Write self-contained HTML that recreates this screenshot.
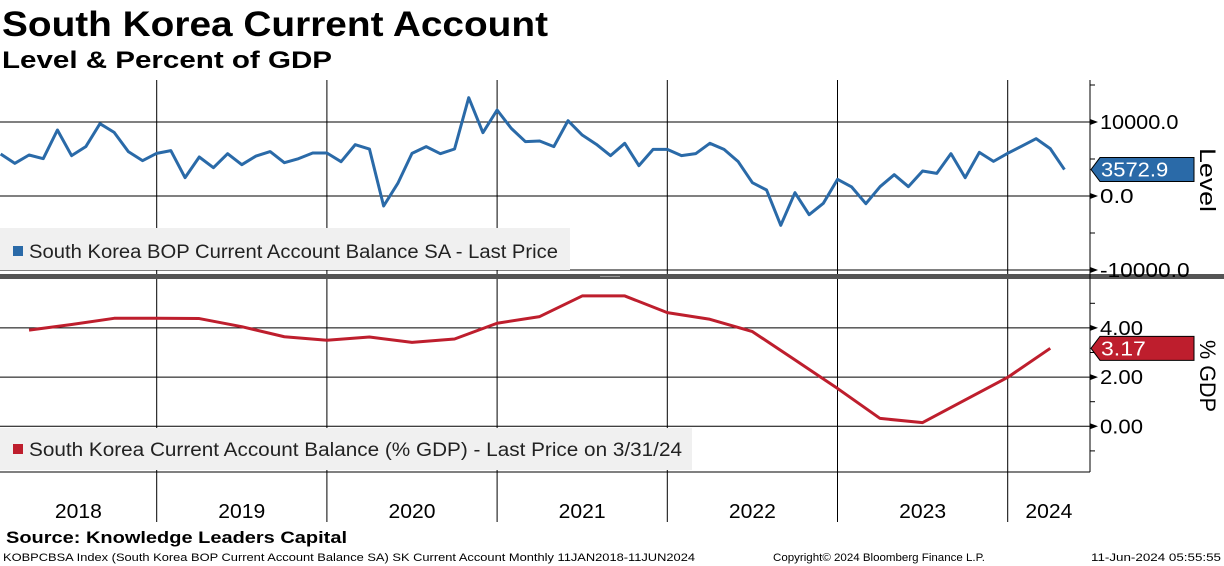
<!DOCTYPE html>
<html><head><meta charset="utf-8"><style>
body{margin:0;background:#fff;width:1224px;height:566px;overflow:hidden;font-family:"Liberation Sans",sans-serif}
svg{display:block}
</style></head><body>
<svg id="chart" width="1224" height="566" xmlns="http://www.w3.org/2000/svg" font-family="Liberation Sans, sans-serif">
<text x="2" y="36" font-size="35" font-weight="bold" textLength="546" lengthAdjust="spacingAndGlyphs">South Korea Current Account</text>
<text x="2" y="68" font-size="24" font-weight="bold" textLength="330" lengthAdjust="spacingAndGlyphs">Level &amp; Percent of GDP</text>
<g id="grid"></g>
<rect x="0" y="274" width="1224" height="5" fill="#555"/>
<line x1="600" y1="276.5" x2="620" y2="276.5" stroke="#999" stroke-width="1"/>
<rect x="0" y="228" width="570" height="42" fill="#f0f0f0"/>
<rect x="13" y="246" width="10" height="10" fill="#2a6aa8"/>
<text x="29" y="258" font-size="19" fill="#222" textLength="529" lengthAdjust="spacingAndGlyphs">South Korea BOP Current Account Balance SA - Last Price</text>
<rect x="0" y="428" width="692" height="42" fill="#f0f0f0"/>
<rect x="13" y="444" width="10" height="10" fill="#be1e2d"/>
<text x="29" y="456" font-size="19" fill="#222" textLength="653" lengthAdjust="spacingAndGlyphs">South Korea Current Account Balance (% GDP) - Last Price on 3/31/24</text>
<g id="series"></g>
<g id="axes"></g>
<text transform="translate(1200,148) rotate(90)" font-size="22" textLength="64" lengthAdjust="spacingAndGlyphs">Level</text>
<text transform="translate(1200,340) rotate(90)" font-size="22" textLength="72" lengthAdjust="spacingAndGlyphs">% GDP</text>
<text x="6" y="543" font-size="17" font-weight="bold" textLength="341" lengthAdjust="spacingAndGlyphs">Source: Knowledge Leaders Capital</text>
<text x="3" y="561" font-size="11" textLength="692" lengthAdjust="spacingAndGlyphs">KOBPCBSA Index (South Korea BOP Current Account Balance SA) SK Current Account  Monthly 11JAN2018-11JUN2024</text>
<text x="773" y="561" font-size="11" textLength="212" lengthAdjust="spacingAndGlyphs">Copyright© 2024 Bloomberg Finance L.P.</text>
<text x="1091" y="561" font-size="11" textLength="130" lengthAdjust="spacingAndGlyphs">11-Jun-2024 05:55:55</text>
</svg>
<script>
const years=["2018","2019","2020","2021","2022","2023","2024"];
const levelValues=[5676,4414,5540,5045,8918,5450,6667,9775,8600,6000,4775,5765,6130,2480,5270,3830,5720,4230,5400,6000,4500,5045,5810,5810,4640,6940,6350,-1350,1710,5765,6670,5720,6350,13290,8560,11620,9140,7340,7430,6670,10180,8240,6980,5450,7120,4100,6300,6300,5450,5720,7120,6300,4640,1800,810,-3960,450,-2520,-990,2250,1220,-1040,1260,2880,1260,3380,3060,5720,2480,5900,4680,5765,6750,7750,6400,3572.9];
const gdpValues=[3.91,4.14,4.39,4.39,4.38,4.05,3.64,3.50,3.63,3.41,3.55,4.19,4.46,5.30,5.30,4.62,4.35,3.85,2.70,1.54,0.32,0.15,1.07,1.99,3.17];
const levelTicks=[10000,0,-10000];
const levelTickLabels=["10000.0","0.0","-10000.0"];
const gdpTicks=[4,2,0];
const gdpTickLabels=["4.00","2.00","0.00"];
const lastLevelLabel="3572.9";
const lastGdpLabel="3.17";

const NS="http://www.w3.org/2000/svg";
const x0=-13.5, yearW=170.2, plotR=1090;
const xMonth=i=>x0+(i+1)*yearW/12;
const xQuarter=q=>x0+(q+1)*yearW/4;
const yLevel=v=>196-v*0.0074;
const yGdp=v=>426.3-v*24.6;
function mk(tag,attrs,parent){const e=document.createElementNS(NS,tag);for(const k in attrs)e.setAttribute(k,attrs[k]);parent.appendChild(e);return e;}
const grid=document.getElementById('grid'),series=document.getElementById('series'),axes=document.getElementById('axes');

for(let y=1;y<years.length;y++){
  const x=x0+y*yearW;
  const l=mk('line',{x1:x,y1:80,x2:x,y2:522,stroke:'#000','stroke-width':1},grid);
  
  
}
years.forEach((yr,i)=>{
  const a=Math.max(0,x0+i*yearW), b=Math.min(plotR,x0+(i+1)*yearW);
  const t=mk('text',{x:(a+b)/2,y:518,'font-size':20,'text-anchor':'middle',textLength:47,lengthAdjust:'spacingAndGlyphs'},axes);
  t.textContent=yr;
  
  
});
levelTicks.forEach((v,i)=>{
  const y=yLevel(v);
  const l=mk('line',{x1:0,y1:y,x2:plotR,y2:y,stroke:'#000','stroke-width':1},grid);
  
  
  mk('path',{d:`M${plotR},${y-3}L${plotR+8},${y}L${plotR},${y+3}Z`,fill:'#000'},axes);
  const lab=levelTickLabels[i];
  const t=mk('text',{x:1100,y:y+7,'font-size':20,textLength:lab.length*11.2,lengthAdjust:'spacingAndGlyphs'},axes);
  t.textContent=lab;
  
  
});
[5000,-5000,15000].forEach(v=>mk('line',{x1:plotR,y1:yLevel(v),x2:plotR+5,y2:yLevel(v),stroke:'#000'},axes));
gdpTicks.forEach((v,i)=>{
  const y=yGdp(v);
  const l=mk('line',{x1:0,y1:y,x2:plotR,y2:y,stroke:'#000','stroke-width':1},grid);
  
  
  mk('path',{d:`M${plotR},${y-3}L${plotR+8},${y}L${plotR},${y+3}Z`,fill:'#000'},axes);
  const t=mk('text',{x:1100,y:y+7,'font-size':20,textLength:43,lengthAdjust:'spacingAndGlyphs'},axes);
  t.textContent=gdpTickLabels[i];
  
  
});
[5,3,1,-1].forEach(v=>mk('line',{x1:plotR,y1:yGdp(v),x2:plotR+5,y2:yGdp(v),stroke:'#000'},axes));
const ax=mk('line',{x1:plotR,y1:80,x2:plotR,y2:472,stroke:'#000','stroke-width':1},axes);


mk('line',{x1:0,y1:472,x2:plotR,y2:472,stroke:'#000','stroke-width':1},axes);

const lp=mk('polyline',{points:levelValues.map((v,i)=>xMonth(i)+','+yLevel(v)).join(' '),fill:'none',stroke:'#2a6aa8','stroke-width':3,'stroke-linejoin':'round'},series);


const gp=mk('polyline',{points:gdpValues.map((v,i)=>xQuarter(i)+','+yGdp(v)).join(' '),fill:'none',stroke:'#be1e2d','stroke-width':3,'stroke-linejoin':'round'},series);



function tag(y,color,label,name){
  const g=mk('g',{},axes);
  
  
  mk('path',{d:`M${plotR+1},${y} L${plotR+10},${y-12} L1194,${y-12} L1194,${y+12} L${plotR+10},${y+12} Z`,fill:color,stroke:'#000','stroke-width':1},g);
  const t=mk('text',{x:1101,y:y+7,'font-size':20,fill:'#fff',textLength:label.length*11.2,lengthAdjust:'spacingAndGlyphs'},g);
  t.textContent=label;
}
tag(yLevel(levelValues[levelValues.length-1]),'#2a6aa8',lastLevelLabel,'level-last-value-tag');
tag(yGdp(gdpValues[gdpValues.length-1]),'#be1e2d',lastGdpLabel,'gdp-last-value-tag');
</script>
</body></html>
